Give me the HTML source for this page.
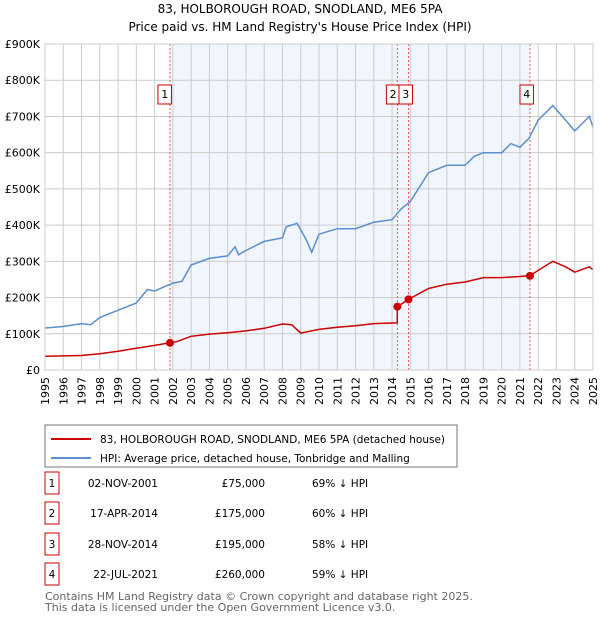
<!DOCTYPE html>
<html><head><meta charset="utf-8"><style>
body{margin:0;background:#fff;font-family:"Liberation Sans","DejaVu Sans",sans-serif;}
svg text{font-family:"DejaVu Sans","Liberation Sans",sans-serif;}
</style></head><body>
<svg width="600" height="620" id="chart" xmlns="http://www.w3.org/2000/svg">
<text x="300" y="13" text-anchor="middle" font-size="12">83, HOLBOROUGH ROAD, SNODLAND, ME6 5PA</text>
<text x="300" y="31" text-anchor="middle" font-size="12">Price paid vs. HM Land Registry's House Price Index (HPI)</text>
<g id="plot"></g>
<rect x="45" y="425" width="412" height="42" fill="#fff" stroke="#777"/>
<line x1="51" y1="439" x2="91" y2="439" stroke="#cc0000" stroke-width="2"/>
<text x="100" y="443" font-size="10.5">83, HOLBOROUGH ROAD, SNODLAND, ME6 5PA (detached house)</text>
<line x1="51" y1="458" x2="91" y2="458" stroke="#5b8fd0" stroke-width="2"/>
<text x="100" y="462" font-size="10.5">HPI: Average price, detached house, Tonbridge and Malling</text>
<g id="table" font-size="10.5"></g>
<text x="45" y="600" font-size="11" fill="#666">Contains HM Land Registry data © Crown copyright and database right 2025.</text>
<text x="45" y="611" font-size="11" fill="#666">This data is licensed under the Open Government Licence v3.0.</text>
</svg>
<script>
const hpiYears=[1995,1996,1997,1997.5,1998,1999,2000,2000.6,2001,2002,2002.5,2003,2004,2005,2005.4,2005.6,2006,2007,2008,2008.2,2008.8,2009.3,2009.6,2010,2011,2012,2013,2014,2014.5,2015,2016,2017,2018,2018.5,2019,2020,2020.5,2021,2021.5,2022,2022.8,2023.5,2024,2024.5,2024.8,2025];
const hpiValues=[116,120,128,125,145,165,185,222,218,240,245,290,308,315,340,318,330,355,365,395,405,360,325,375,390,390,408,415,445,465,545,565,565,590,600,600,625,615,640,690,730,690,660,685,700,670];
const ppYears=[1995,1997,1998,1999,2000,2001,2001.84,2002.2,2003,2004,2005,2006,2007,2008,2008.5,2009,2010,2011,2012,2013,2014.28,2014.29,2014.9,2016,2017,2018,2019,2020,2021,2021.55,2022,2022.8,2023.5,2024,2024.8,2025];
const ppValues=[38,40,45,52,60,68,75,78,93,99,103,108,115,127,125,102,112,118,122,128,130,175,195,225,237,243,255,255,258,260,275,300,285,270,285,277];
const saleLabels=["1","2","3","4"];
const saleYears=[2001.84,2014.29,2014.9,2021.55];
const saleValues=[75,175,195,260];
const saleDates=["02-NOV-2001","17-APR-2014","28-NOV-2014","22-JUL-2021"];
const salePrices=["£75,000","£175,000","£195,000","£260,000"];
const salePcts=["69% ↓ HPI","60% ↓ HPI","58% ↓ HPI","59% ↓ HPI"];
const yTicks=[0,100,200,300,400,500,600,700,800,900];
const yTickLabels=["£0","£100K","£200K","£300K","£400K","£500K","£600K","£700K","£800K","£900K"];
const xTicks=[1995,1996,1997,1998,1999,2000,2001,2002,2003,2004,2005,2006,2007,2008,2009,2010,2011,2012,2013,2014,2015,2016,2017,2018,2019,2020,2021,2022,2023,2024,2025];

const L=45,R=593,T=44,B=370;
const x=y=>L+(y-1995)/30*(R-L);
const yy=v=>B-v/900*(B-T);
const NS="http://www.w3.org/2000/svg";
const g=document.getElementById('plot');
function mk(tag,at,parent){const e=document.createElementNS(NS,tag);for(const k in at)e.setAttribute(k,at[k]);(parent||g).appendChild(e);return e;}

let sh=mk('rect',{x:x(saleYears[0]),y:T,width:x(saleYears[3])-x(saleYears[0]),height:B-T,fill:'#eef3fc',opacity:0.8});


xTicks.forEach(t=>{let l=mk('line',{x1:x(t),x2:x(t),y1:T,y2:B,stroke:'#ccc'});


const tx0=x(t)+4, ty0=B+7;
let tx=mk('text',{x:tx0,y:ty0,'font-size':11,'text-anchor':'end',transform:'rotate(-90 '+tx0+' '+ty0+')'});tx.textContent=t;

});
yTicks.forEach((t,i)=>{let l=mk('line',{x1:L,x2:R,y1:yy(t),y2:yy(t),stroke:'#ccc'});


let tx=mk('text',{x:L-5,y:yy(t)+4,'font-size':11,'text-anchor':'end'});tx.textContent=yTickLabels[i];

});
saleYears.forEach((s,i)=>{let l=mk('line',{x1:x(s),x2:x(s),y1:T,y2:B,stroke:'#e55','stroke-dasharray':'2,2'});

});
function path(xs,vs,c,name){let d=xs.map((a,i)=>(i?'L':'M')+x(a).toFixed(1)+','+yy(vs[i]).toFixed(1)).join('');
let p=mk('path',{d:d,fill:'none',stroke:c,'stroke-width':1.5});

}
path(hpiYears,hpiValues,'#5b8fd0','hpi-line');
path(ppYears,ppValues,'#cc0000','price-paid-line');
const boxOff=[-12,-11,-9.5,-10];
saleYears.forEach((s,i)=>{let c=mk('circle',{cx:x(s),cy:yy(saleValues[i]),r:4,fill:'#cc0000'});


let bx=x(s)+boxOff[i];
let r=mk('rect',{x:bx,y:85,width:13.5,height:19,fill:'#fff',stroke:'#cc0000'});


let t=mk('text',{x:bx+6.75,y:98,'font-size':11,'text-anchor':'middle'});t.textContent=saleLabels[i];

});
let bd=mk('rect',{x:L,y:T,width:R-L,height:B-T,fill:'none',stroke:'#ccc'});



const tg=document.getElementById('table');
const rowY=[483,513,544,574];
saleLabels.forEach((s,i)=>{const y0=rowY[i];
let r=mk('rect',{x:45,y:y0-11,width:14,height:22,fill:'#fff',stroke:'#cc0000'},tg);


let t=mk('text',{x:52,y:y0+4,'text-anchor':'middle'},tg);t.textContent=s;


let d=mk('text',{x:158,y:y0+4,'text-anchor':'end'},tg);d.textContent=saleDates[i];


let p=mk('text',{x:265,y:y0+4,'text-anchor':'end'},tg);p.textContent=salePrices[i];


let q=mk('text',{x:312,y:y0+4},tg);q.textContent=salePcts[i];

});
</script>
</body></html>
